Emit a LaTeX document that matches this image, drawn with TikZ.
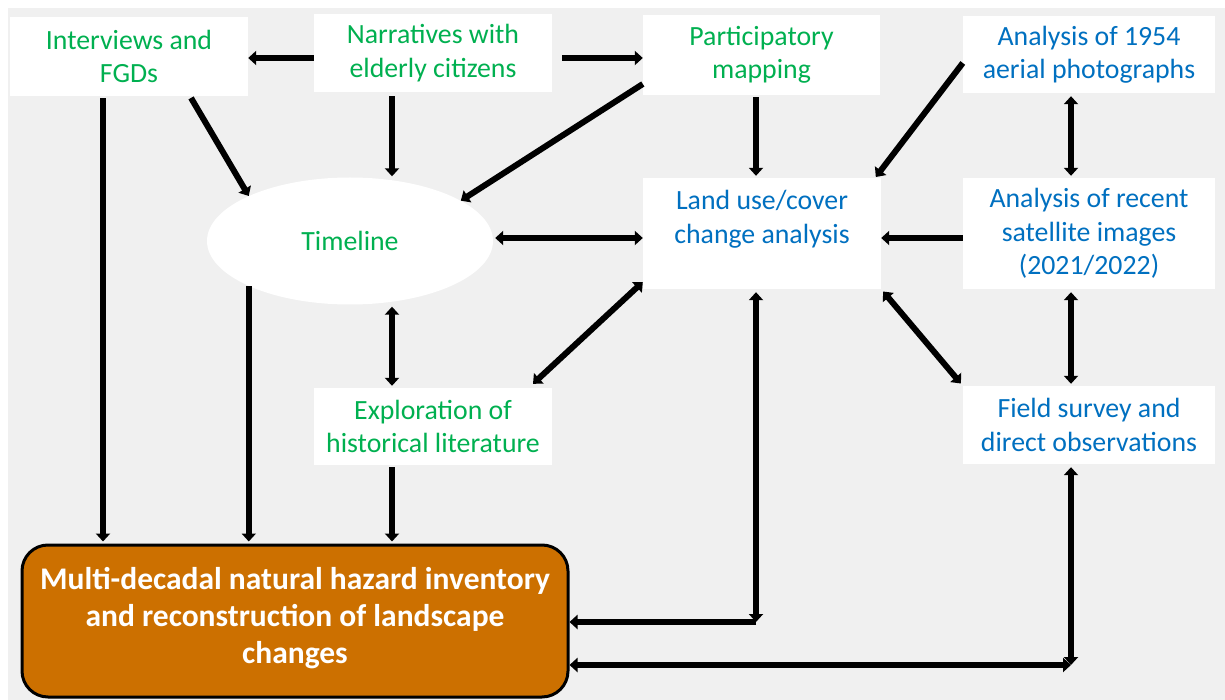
\documentclass[tikz,border=0pt]{standalone}
\usepackage{fontspec}
\setmainfont{Carlito}
\usetikzlibrary{arrows.meta,shapes.geometric,calc}
\definecolor{bgc}{HTML}{F0F0F0}
\definecolor{tgreen}{HTML}{00B050}
\definecolor{tblue}{HTML}{0070C0}
\definecolor{orng}{HTML}{CC7000}
\tikzset{
  tbox/.style={fill=white, inner sep=0pt, align=center, font=\fontsize{27.8}{33.5}\selectfont},
  gbox/.style={tbox, text=tgreen},
  bbox/.style={tbox, text=tblue},
  bigbox/.style={draw=black, line width=3pt, fill=orng, rounded corners=26pt, text=white, align=center, inner sep=0pt, font=\bfseries\fontsize{31.5}{37}\selectfont},
  tip/.tip={Triangle[length=8pt,width=14pt]},
  arr/.style={line width=6pt, -tip},
  arrb/.style={line width=6pt, tip-tip}
}
\begin{document}
\begin{tikzpicture}[x=1pt,y=-1pt]
\useasboundingbox (0,0) rectangle (1225,700);
\fill[white] (0,0) rectangle (1225,700);
\fill[bgc] (8,8) rectangle (1225,700);

\node[gbox, minimum width=238pt, minimum height=79pt] (int) at (129,56.5) {Interviews and\\FGDs};
\node[gbox, minimum width=238pt, minimum height=78pt] (nar) at (433,53) {Narratives with\\elderly citizens};
\node[gbox, minimum width=237pt, minimum height=80pt] (par) at (761.5,55) {Participatory\\mapping};
\node[bbox, minimum width=252pt, minimum height=77pt] (a54) at (1089,54.5) {Analysis of 1954\\aerial photographs};
\node[bbox, minimum width=238pt, minimum height=111pt] (lu) at (762,233.5) {Land use/cover\\change analysis\\\mbox{}};
\node[bbox, minimum width=252pt, minimum height=111pt] (rec) at (1089,233.5) {Analysis of recent\\satellite images\\(2021/2022)};
\node[ellipse, fill=white, inner sep=0pt, minimum width=286pt, minimum height=127pt, text=tgreen, font=\fontsize{27.8}{33.5}\selectfont] (tl) at (350,241) {Timeline};
\node[gbox, minimum width=238pt, minimum height=77pt] (exp) at (433,426.5) {Exploration of\\historical literature};
\node[bbox, minimum width=252pt, minimum height=78pt] (fs) at (1089,425) {Field survey and\\direct observations};
\node[bigbox, minimum width=546pt, minimum height=152pt] (big) at (295,621) {Multi-decadal natural hazard inventory\\and reconstruction of landscape\\changes\\[-25pt]\mbox{}};

\coordinate (c1) at (756,622);
\coordinate (c2) at (1071,665);

% top row
\draw[arr] (nar.west |- 0,58) -- (int.east |- 0,58);
\draw[arr, shorten <=10pt] (nar.east |- 0,58) -- (par.west |- 0,58);
\draw[arr, shorten <=4pt, shorten >=1pt] (nar.south -| 392,0) -- (tl.north -| 392,0);
\draw[arr, shorten <=2pt] (int.south -| 190,0) -- (tl.north west);
\draw[arr] (par.west |- 0,84) -- (tl.20);
\draw[arr, shorten <=2pt, shorten >=2pt] (par.south -| 756,0) -- (lu.north -| 756,0);
\draw[arr, shorten >=1pt] (a54.west |- 0,63) -- ([xshift=-6pt]lu.north east);
\draw[arr] (rec.west |- 0,238) -- (lu.east |- 0,238);
\draw[arrb, shorten <=2pt] (tl.east |- 0,238) -- (lu.west |- 0,238);
\draw[arrb] (lu.west |- 0,282) -- ([yshift=4pt]exp.north -| 533,0);
\draw[arrb, shorten <=2pt, shorten >=2pt] (tl.south -| 392,0) -- (exp.north -| 392,0);
\draw[arrb, shorten <=3pt, shorten >=3pt] (lu.south east) -- (fs.north west);
\draw[arrb, shorten <=3pt, shorten >=2pt] (a54.south -| 1071,0) -- (rec.north -| 1071,0);
\draw[arrb, shorten <=3pt, shorten >=2pt] (rec.south -| 1071,0) -- (fs.north -| 1071,0);

% down to big box
\draw[arr, shorten <=2pt, shorten >=2pt] (int.south -| 103,0) -- (big.north -| 103,0);
\draw[arr, shorten >=2pt] (tl.204) -- (big.north -| tl.204);
\draw[arr, shorten <=2pt, shorten >=2pt] (exp.south -| 392,0) -- (big.north -| 392,0);

% elbow connectors
\draw[arrb, shorten <=3pt] (lu.south -| 756,0) -- (c1);
\draw[arr] (c1) -- (big.east |- c1);
\draw[arrb, shorten <=3pt] (fs.south -| 1071,0) -- (c2);
\draw[arrb] (c2) -- (big.east |- c2);
\end{tikzpicture}
\end{document}
